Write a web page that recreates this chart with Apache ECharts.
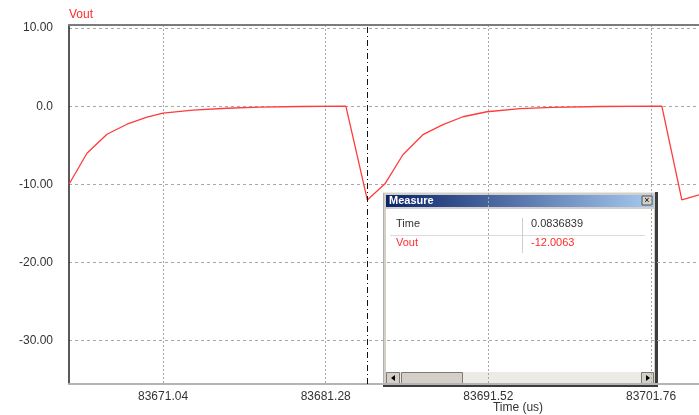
<!DOCTYPE html>
<html>
<head>
<meta charset="utf-8">
<script src="https://cdn.jsdelivr.net/npm/echarts@6/dist/echarts.min.js"></script>
<style>
  html, body { margin: 0; padding: 0; background: #ffffff; }
  #chart { width: 699px; height: 415px; }
</style>
</head>
<body>
<div id="chart"></div>
<script>
// Output voltage waveform, time in microseconds
const timeUs = [
  83665.12, 83666.25, 83667.51, 83668.77, 83670.03, 83671.04, 83672.92,
  83675.06, 83677.14, 83679.66, 83682.55, 83683.90, 83685.01, 83686.14,
  83687.40, 83688.66, 83689.92, 83691.43, 83693.51, 83695.58, 83698.54,
  83702.44, 83703.70, 83704.78
];
const vout = [
  -10.00, -6.03, -3.59, -2.31, -1.41, -0.90, -0.51,
  -0.26, -0.13, -0.04, 0.00, -12.0063, -9.94, -6.22,
  -3.65, -2.37, -1.35, -0.71, -0.32, -0.15, -0.04,
  0.00, -12.00, -11.35
];

// Axis ticks
const xTicks = [83671.04, 83681.28, 83691.52, 83701.76];
const yTicks = [-30, -20, -10, 0, 10];
const yTickLabels = ['-30.00', '-20.00', '-10.00', '0.0', '10.00'];
const xTitle = 'Time (us)';

// Measurement cursor and readout
const cursorTime = 83683.9;
const measureTime = '0.0836839';
const measureVout = '-12.0063';

const xMin = 83665.12, xMax = 83704.78;
const yMin = -35.58, yMax = 10.4;

const FONT = '"Liberation Sans", Arial, sans-serif';
const gridLineH = { show: true, lineStyle: { color: '#a8a8a8', width: 1, type: [3, 3] } };
const gridLineV = { show: true, lineStyle: { color: '#a8a8a8', width: 1, type: [2, 2] } };

const chart = echarts.init(document.getElementById('chart'), null, { renderer: 'canvas' });

// Readout panel drawn over the plot, plus the time axis title
const panel = [
  { type: 'text', x: 518, y: 408, style: { text: xTitle, fill: '#333333', font: '12px ' + FONT,
    align: 'center', verticalAlign: 'middle' } },
  { type: 'rect', shape: { x: 383, y: 192, width: 275, height: 195 }, style: { fill: '#d4d0c8' } },
  { type: 'rect', shape: { x: 383, y: 192, width: 1, height: 193 }, style: { fill: '#b0b0b0' } },
  { type: 'rect', shape: { x: 383, y: 192, width: 272, height: 1 }, style: { fill: '#e8e8e8' } },
  { type: 'rect', shape: { x: 655, y: 192, width: 3, height: 195 }, style: { fill: '#3c3c3c' } },
  { type: 'rect', shape: { x: 383, y: 384, width: 275, height: 3 }, style: { fill: '#3c3c3c' } },
  { type: 'rect', shape: { x: 386, y: 195, width: 268, height: 12 },
    style: { fill: new echarts.graphic.LinearGradient(0, 0, 1, 0, [
      { offset: 0, color: '#0a246a' }, { offset: 1, color: '#a6caf0' } ]) } },
  { type: 'text', x: 389, y: 201, style: { text: 'Measure', fill: '#ffffff',
    font: 'bold 11px ' + FONT, verticalAlign: 'middle' } },
  { type: 'rect', shape: { x: 642, y: 196, width: 10, height: 9 },
    style: { fill: '#d4d0c8', stroke: '#505050', lineWidth: 1 } },
  { type: 'text', x: 647, y: 200.5, style: { text: '×', fill: '#000', font: '9px ' + FONT,
    align: 'center', verticalAlign: 'middle' } },
  { type: 'rect', shape: { x: 386, y: 209, width: 268, height: 163 }, style: { fill: '#ffffff' } },
  { type: 'line', shape: { x1: 390, y1: 235.5, x2: 645, y2: 235.5 }, style: { stroke: '#dcdcdc', lineWidth: 1 } },
  { type: 'line', shape: { x1: 522.5, y1: 218, x2: 522.5, y2: 253 }, style: { stroke: '#cfcfcf', lineWidth: 1 } },
  { type: 'text', x: 396, y: 224, style: { text: 'Time', fill: '#333333', font: '11px ' + FONT, verticalAlign: 'middle' } },
  { type: 'text', x: 531, y: 224, style: { text: measureTime, fill: '#333333', font: '11px ' + FONT, verticalAlign: 'middle' } },
  { type: 'text', x: 396, y: 243, style: { text: 'Vout', fill: '#ff2a2a', font: '11px ' + FONT, verticalAlign: 'middle' } },
  { type: 'text', x: 531, y: 243, style: { text: measureVout, fill: '#ff2a2a', font: '11px ' + FONT, verticalAlign: 'middle' } },
  // scroll bar
  { type: 'rect', shape: { x: 386, y: 372, width: 268, height: 12 }, style: { fill: '#ecebe6' } },
  { type: 'rect', shape: { x: 386.5, y: 372.5, width: 13, height: 11 }, style: { fill: '#d4d0c8', stroke: '#7a7a7a', lineWidth: 1 } },
  { type: 'polygon', shape: { points: [[391, 378], [395, 375], [395, 381]] }, style: { fill: '#000' } },
  { type: 'rect', shape: { x: 401.5, y: 372.5, width: 61, height: 11 }, style: { fill: '#d4d0c8', stroke: '#7a7a7a', lineWidth: 1 } },
  { type: 'rect', shape: { x: 641.5, y: 372.5, width: 12, height: 11 }, style: { fill: '#d4d0c8', stroke: '#7a7a7a', lineWidth: 1 } },
  { type: 'polygon', shape: { points: [[650, 378], [646, 375], [646, 381]] }, style: { fill: '#000' } }
];

chart.setOption({
  animation: false,
  backgroundColor: '#ffffff',
  grid: { left: 69, right: 0, top: 25, bottom: 31, containLabel: false, outerBoundsMode: 'none' },
  xAxis: [
    {
      type: 'value', position: 'bottom', min: xMin, max: xMax,
      axisLine: { show: true, onZero: false, lineStyle: { color: '#b4b4b4', width: 2 } },
      axisTick: { show: false, customValues: xTicks },
      axisLabel: { customValues: xTicks, margin: 7, color: '#333333', fontSize: 12, fontFamily: FONT,
        formatter: v => v.toFixed(2) },
      splitLine: gridLineV
    },
    {
      type: 'value', position: 'top', min: xMin, max: xMax,
      axisLine: { show: true, onZero: false, lineStyle: { color: '#7c7c7c', width: 2 } },
      axisTick: { show: false }, axisLabel: { show: false }, splitLine: { show: false }
    }
  ],
  yAxis: {
    type: 'value', min: yMin, max: yMax,
    name: 'Vout', nameLocation: 'end', nameGap: 4,
    nameTextStyle: { color: '#ff2a2a', fontSize: 12, fontFamily: FONT, align: 'left' },
    axisLine: { show: true, onZero: false, lineStyle: { color: '#222222', width: 1.5 } },
    axisTick: { show: false, customValues: yTicks },
    axisLabel: { customValues: yTicks, margin: 16, color: '#333333', fontSize: 12, fontFamily: FONT,
      formatter: v => yTickLabels[yTicks.indexOf(Math.round(v))] },
    splitLine: gridLineH
  },
  series: [{
    type: 'line',
    xAxisIndex: 0,
    data: timeUs.map((t, i) => [t, vout[i]]),
    showSymbol: false,
    smooth: false,
    lineStyle: { color: '#ff3b3b', width: 1.3 },
    emphasis: { disabled: true },
    markLine: {
      silent: true, symbol: ['none', 'none'], label: { show: false },
      lineStyle: { color: '#111111', width: 1, type: [6, 3, 1, 3] },
      data: [{ xAxis: cursorTime }]
    }
  }],
  graphic: panel
});
</script>
</body>
</html>
